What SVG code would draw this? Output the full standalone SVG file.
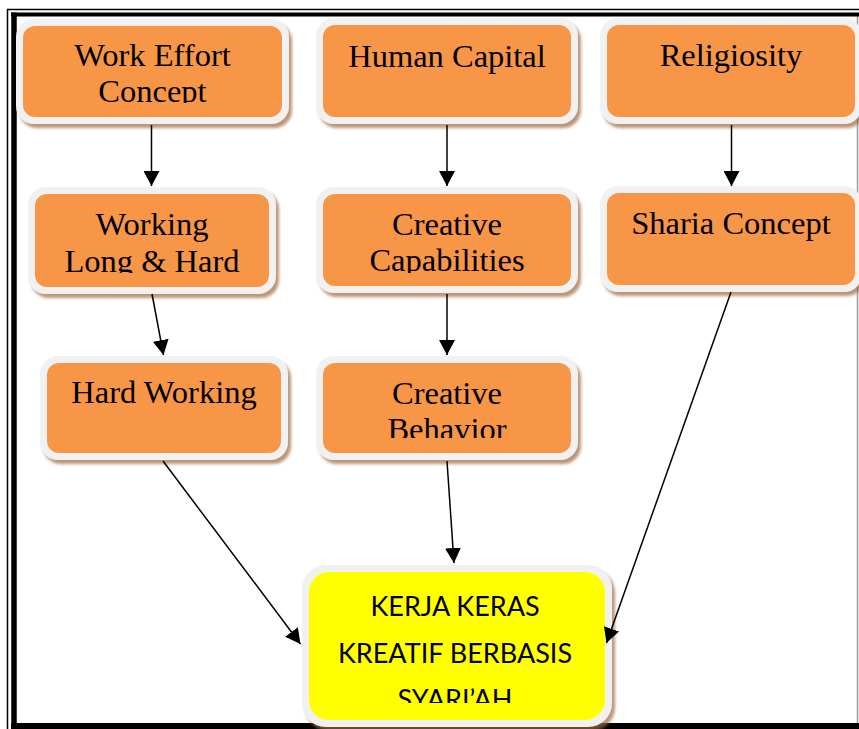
<svg xmlns="http://www.w3.org/2000/svg" width="859" height="729" viewBox="0 0 859 729">
  <style>
    .rim { fill: #f1f1f1; filter: url(#shade); }
    .face { fill: #f79646; }
    .goal { fill: #ffff00; }
    .lbl { font-family: "Liberation Serif", "Times New Roman", serif; font-size: 32.5px; fill: #000; text-anchor: middle; }
    .goal-lbl { font-family: Lato, "Open Sans", "Liberation Sans", sans-serif; font-size: 27px; fill: #000; text-anchor: middle; }
    .edge { stroke: #000; stroke-width: 1.5; fill: none; marker-end: url(#tip); }
    .frame-thin { stroke: #000; stroke-width: 1.5; fill: none; }
    .frame-thick { stroke: #000; fill: none; }
  </style>
  <defs>
    <filter id="shade" x="-10%" y="-10%" width="125%" height="130%">
      <feDropShadow dx="3" dy="4" stdDeviation="1.6" flood-color="#a0693a" flood-opacity="0.7"/>
    </filter>
    <marker id="tip" markerUnits="userSpaceOnUse" markerWidth="16" markerHeight="16" refX="15" refY="8" orient="auto">
      <path d="M0,0 L15,8 L0,16 Z" fill="#000"/>
    </marker>
    <clipPath id="clip-n1"><rect x="23" y="26" width="259" height="77"/></clipPath>
    <clipPath id="clip-n4"><rect x="35" y="194" width="234" height="79"/></clipPath>
    <clipPath id="clip-n5"><rect x="323" y="194" width="248" height="79"/></clipPath>
    <clipPath id="clip-n8"><rect x="323" y="363" width="248" height="75"/></clipPath>
    <clipPath id="clip-n9"><rect x="309" y="572" width="296" height="131"/></clipPath>
  </defs>

  <rect width="859" height="729" fill="#fff"/>

  <!-- page frame: thin outer rule and heavy inner rule -->
  <g id="frame">
    <path class="frame-thin" d="M7.5,729 V9.5 H859"/>
    <line x1="857.5" y1="14" x2="857.5" y2="723" stroke="#9a9a9a" stroke-width="1.5"/>
    <path class="frame-thick" stroke-width="4" d="M11,14.5 H859"/>
    <path class="frame-thick" stroke-width="5.5" d="M14,12.5 V729"/>
    <path class="frame-thick" stroke-width="6" d="M11,726 H859"/>
  </g>

  <g id="n1">
    <rect class="rim" x="16" y="19" width="273" height="105" rx="18"/>
    <rect class="face" x="23" y="26" width="259" height="91" rx="12"/>
    <g clip-path="url(#clip-n1)">
      <text class="lbl" x="152.5" y="66">Work Effort</text>
      <text class="lbl" x="152.5" y="101.5">Concept</text>
    </g>
  </g>

  <g id="n2">
    <rect class="rim" x="316" y="18" width="262" height="106" rx="18"/>
    <rect class="face" x="323" y="25" width="248" height="92" rx="12"/>
    <text class="lbl" x="447" y="66.5">Human Capital</text>
  </g>

  <g id="n3">
    <rect class="rim" x="600" y="18" width="262" height="106" rx="18"/>
    <rect class="face" x="607" y="25" width="248" height="92" rx="12"/>
    <text class="lbl" x="731" y="66">Religiosity</text>
  </g>

  <g id="n4">
    <rect class="rim" x="28" y="187" width="248" height="107" rx="18"/>
    <rect class="face" x="35" y="194" width="234" height="93" rx="12"/>
    <g clip-path="url(#clip-n4)">
      <text class="lbl" x="152" y="235">Working</text>
      <text class="lbl" x="152" y="271.5">Long &amp; Hard</text>
    </g>
  </g>

  <g id="n5">
    <rect class="rim" x="316" y="187" width="262" height="106" rx="18"/>
    <rect class="face" x="323" y="194" width="248" height="92" rx="12"/>
    <g clip-path="url(#clip-n5)">
      <text class="lbl" x="447" y="235">Creative</text>
      <text class="lbl" x="447" y="271">Capabilities</text>
    </g>
  </g>

  <g id="n6">
    <rect class="rim" x="600" y="186" width="262" height="106" rx="18"/>
    <rect class="face" x="607" y="193" width="248" height="92" rx="12"/>
    <text class="lbl" x="731" y="234">Sharia Concept</text>
  </g>

  <g id="n7">
    <rect class="rim" x="40" y="356" width="248" height="104" rx="18"/>
    <rect class="face" x="47" y="363" width="234" height="90" rx="12"/>
    <text class="lbl" x="164" y="403">Hard Working</text>
  </g>

  <g id="n8">
    <rect class="rim" x="316" y="356" width="262" height="104" rx="18"/>
    <rect class="face" x="323" y="363" width="248" height="90" rx="12"/>
    <g clip-path="url(#clip-n8)">
      <text class="lbl" x="447" y="404">Creative</text>
      <text class="lbl" x="447" y="440">Behavior</text>
    </g>
  </g>

  <g id="n9">
    <rect class="rim" x="302" y="565" width="310" height="162" rx="24"/>
    <rect class="goal" x="309" y="572" width="296" height="148" rx="20"/>
    <g clip-path="url(#clip-n9)">
      <text class="goal-lbl" x="455" y="616">KERJA KERAS</text>
      <text class="goal-lbl" x="455" y="662.5">KREATIF BERBASIS</text>
      <text class="goal-lbl" x="455" y="709">SYARI’AH</text>
    </g>
  </g>

  <g id="connectors">
    <line class="edge" x1="151.5" y1="125" x2="151.5" y2="186"/>
    <line class="edge" x1="447" y1="125" x2="447" y2="186"/>
    <line class="edge" x1="731.5" y1="125" x2="731.5" y2="186"/>
    <line class="edge" x1="152" y1="294" x2="163.5" y2="355"/>
    <line class="edge" x1="447" y1="294" x2="447" y2="355"/>
    <line class="edge" x1="163" y1="461" x2="300.5" y2="644"/>
    <line class="edge" x1="447" y1="461" x2="454" y2="563"/>
    <line class="edge" x1="731" y1="292" x2="606.5" y2="643"/>
  </g>
</svg>
